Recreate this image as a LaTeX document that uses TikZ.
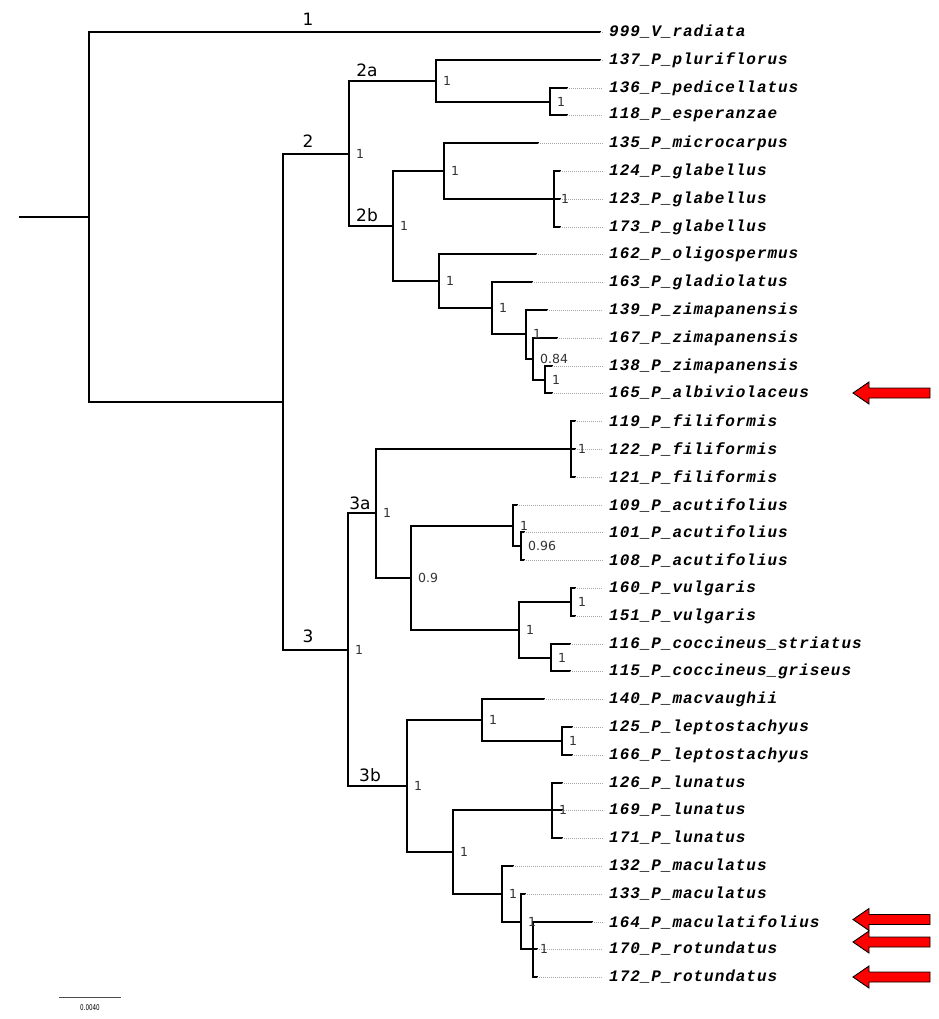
\documentclass[tikz,border=0pt]{standalone}
\usepackage{fontspec}
\setsansfont{DejaVu Sans}
\newfontfamily\taxonfont[LetterSpace=6]{Liberation Mono}
\tikzset{
	branch/.style={line width=2pt,line cap=rect},
	dots/.style={gray!70,line width=0.6pt,dash pattern=on 1pt off 1pt},
	taxon/.style={anchor=west,inner sep=0pt,font=\taxonfont\fontsize{16}{16}\selectfont\bfseries\itshape},
	support/.style={anchor=west,inner sep=0pt,xshift=7pt,font=\sffamily\fontsize{12.5}{12.5}\selectfont,text=black!80},
	clade/.style={anchor=south,inner sep=0pt,font=\sffamily\fontsize{17}{17}\selectfont},
	marker/.style={draw=black,fill=red,line width=0.9pt,line join=miter}
}
\begin{document}
\begin{tikzpicture}[x=1pt,y=-1pt]
	\useasboundingbox (0,0) rectangle (938,1019);
	% internal nodes
	\coordinate (base) at (20,217);
	\coordinate (root) at (89,217);
	\coordinate (nA) at (283,402);
	\coordinate (n2) at (349,154);
	\coordinate (n2a) at (436,81);
	\coordinate (n2a1) at (550,102);
	\coordinate (n2b) at (393,226);
	\coordinate (n2b1) at (444,171);
	\coordinate (n2b2) at (554,199);
	\coordinate (n2b3) at (439,281);
	\coordinate (n2b4) at (492,308);
	\coordinate (n2b5) at (526,334);
	\coordinate (n2b6) at (533,359);
	\coordinate (n2b7) at (545,380);
	\coordinate (n3) at (348,650);
	\coordinate (n3a) at (376,513);
	\coordinate (n3a1) at (571,449);
	\coordinate (n3a2) at (411,578);
	\coordinate (n3a3) at (513,526);
	\coordinate (n3a4) at (521,546);
	\coordinate (n3a5) at (519,630);
	\coordinate (n3a6) at (571,602);
	\coordinate (n3a7) at (551,658);
	\coordinate (n3b) at (407,786);
	\coordinate (n3b1) at (482,720);
	\coordinate (n3b2) at (562,741);
	\coordinate (n3b3) at (453,852);
	\coordinate (n3b4) at (552,810);
	\coordinate (n3b5) at (502,894);
	\coordinate (n3b6) at (521,922);
	\coordinate (n3b7) at (533,949);
	% inner branches
	\draw[branch] (base) -- (root);
	\foreach \p/\c in {root/nA,nA/n2,nA/n3,n2/n2a,n2/n2b,n2a/n2a1,n2b/n2b1,n2b/n2b3,n2b1/n2b2,
		n2b3/n2b4,n2b4/n2b5,n2b5/n2b6,n2b6/n2b7,n3/n3a,n3/n3b,n3a/n3a1,n3a/n3a2,n3a2/n3a3,n3a3/n3a4,
		n3a2/n3a5,n3a5/n3a6,n3a5/n3a7,n3b/n3b1,n3b/n3b3,n3b1/n3b2,n3b3/n3b4,n3b3/n3b5,n3b5/n3b6,n3b6/n3b7}
		\draw[branch] (\p) |- (\c);
	% leaves
	\foreach \id/\i/\tx/\p/\sp in {999/0/600/root/V\_radiata,137/1/600/n2a/P\_pluriflorus,
		136/2/567/n2a1/P\_pedicellatus,118/3/567/n2a1/P\_esperanzae,135/4/538/n2b1/P\_microcarpus,
		124/5/560/n2b2/P\_glabellus,123/6/560/n2b2/P\_glabellus,173/7/560/n2b2/P\_glabellus,
		162/8/536/n2b3/P\_oligospermus,163/9/532/n2b4/P\_gladiolatus,139/10/547/n2b5/P\_zimapanensis,
		167/11/557/n2b6/P\_zimapanensis,138/12/552/n2b7/P\_zimapanensis,165/13/552/n2b7/P\_albiviolaceus,
		119/14/575/n3a1/P\_filiformis,122/15/575/n3a1/P\_filiformis,121/16/575/n3a1/P\_filiformis,
		109/17/517/n3a3/P\_acutifolius,101/18/524/n3a4/P\_acutifolius,108/19/524/n3a4/P\_acutifolius,
		160/20/575/n3a6/P\_vulgaris,151/21/575/n3a6/P\_vulgaris,116/22/570/n3a7/P\_coccineus\_striatus,
		115/23/570/n3a7/P\_coccineus\_griseus,140/24/544/n3b1/P\_macvaughii,125/25/572/n3b2/P\_leptostachyus,
		166/26/572/n3b2/P\_leptostachyus,126/27/562/n3b4/P\_lunatus,169/28/562/n3b4/P\_lunatus,
		171/29/562/n3b4/P\_lunatus,132/30/513/n3b5/P\_maculatus,133/31/525/n3b6/P\_maculatus,
		164/32/592/n3b7/P\_maculatifolius,170/33/537/n3b7/P\_rotundatus,172/34/537/n3b7/P\_rotundatus}
	{
		\coordinate (t\id) at (\tx,{round(32+27.8*\i)});
		\node[taxon] (l\id) at (609,{round(32+27.8*\i)}) {\id\_\sp};
		\draw[branch] (\p) |- (t\id);
		\draw[dots] (t\id) -- ([xshift=-6pt]l\id.west);
	}
	% support values
	\foreach \n/\v in {n2/1,n2a/1,n2a1/1,n2b/1,n2b1/1,n2b2/1,n2b3/1,n2b4/1,n2b5/1,n2b6/0.84,n2b7/1,
		n3/1,n3a/1,n3a1/1,n3a2/0.9,n3a3/1,n3a4/0.96,n3a5/1,n3a6/1,n3a7/1,
		n3b/1,n3b1/1,n3b2/1,n3b3/1,n3b4/1,n3b5/1,n3b6/1,n3b7/1}
		\node[support] (s\n) at (\n) {\v};
	% clade names
	\node[clade] (c1) at (308,26) {1};
	\node[clade] (c2) at (308,148) {2};
	\node[clade] (c2a) at (367,77) {2a};
	\node[clade] (c2b) at (367,222) {2b};
	\node[clade] (c3) at (308,643) {3};
	\node[clade] (c3a) at (360,510) {3a};
	\node[clade] (c3b) at (370,782) {3b};
	% arrows
	\foreach \y in {393,919.5,942,977}
		\draw[marker] (853,\y) -- ++(16,-11) -- ++(0,6) -- ++(61,0) -- ++(0,10) -- ++(-61,0) -- ++(0,6) -- cycle;
	% scale bar
	\coordinate (sb1) at (59,997);
	\coordinate (sb2) at (121,997);
	\draw[line width=1pt,black!70] (sb1) -- (sb2);
	\node[inner sep=0pt,font=\sffamily\fontsize{8}{8}\selectfont] (sbl) at (90,1008) {\scalebox{0.7}[1]{0.0040}};
\end{tikzpicture}
\end{document}
